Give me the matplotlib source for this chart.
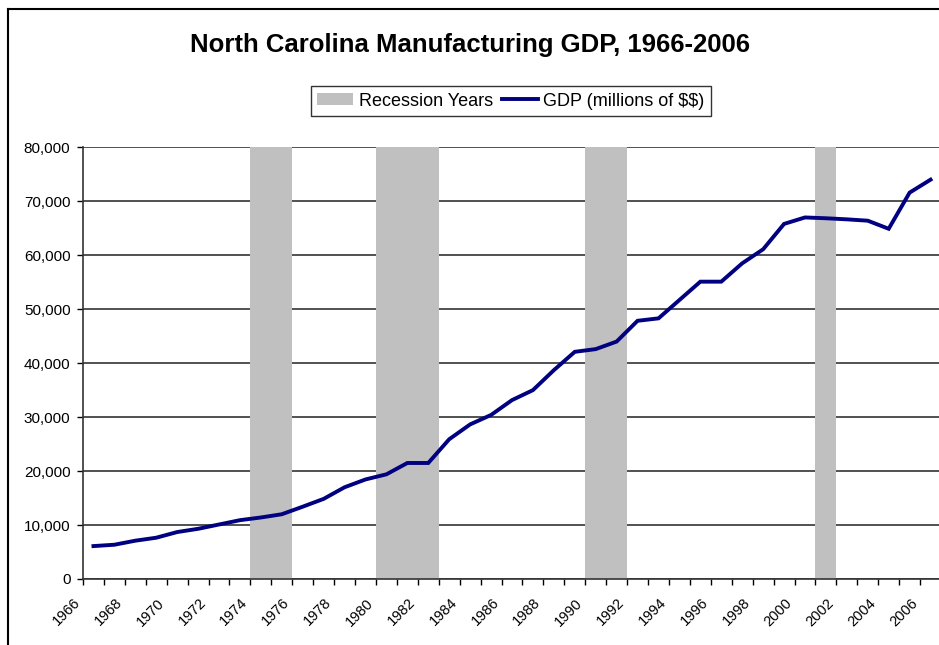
import numpy as np
import matplotlib.pyplot as plt
from matplotlib.ticker import FuncFormatter, MultipleLocator

plt.rcParams['font.family'] = ['Liberation Sans', 'DejaVu Sans']

# NC manufacturing GDP, millions of dollars
years = list(range(1966, 2007))
gdp = [6100, 6350, 7100, 7650, 8700, 9300, 10100, 10900, 11400, 12000,
       13400, 14850, 17000, 18450, 19400, 21500, 21500, 25900, 28650, 30400,
       33150, 35000, 38700, 42100, 42600, 44000, 47850, 48300, 51700, 55100,
       55100, 58500, 61100, 65800, 67000, 66850, 66650, 66400, 64900, 71600,
       74000]

# recession years (shaded columns)
recession_years = [1974, 1975, 1980, 1981, 1982, 1990, 1991, 2001]
recession_top = 80000

W, H = 939, 645
fig = plt.figure(figsize=(W / 100, H / 100), dpi=100)
ax = fig.add_axes([83 / W, (H - 579) / H, (941 - 83) / W, (579 - 147.3) / H])

bars = ax.bar(recession_years, [recession_top] * len(recession_years), width=1, align='edge',
              color='#C0C0C0', zorder=2)
line, = ax.plot(np.array(years) + 0.5, gdp, color='#000080', lw=2.8,
                zorder=3, solid_joinstyle='miter')

ax.set_xlim(1966, 2007)
ax.set_ylim(0, 80000)
ax.yaxis.set_major_locator(MultipleLocator(10000))
ax.yaxis.set_major_formatter(FuncFormatter(lambda v, p: f'{int(v):,}'))
ax.grid(axis='y', color='#222222', lw=1.1, zorder=1)
ax.set_axisbelow(True)

ax.set_xticks(years)
ax.set_xticklabels([str(y) if (y - 1966) % 2 == 0 else '' for y in years],
                   rotation=45, ha='right', fontsize=10.5)
ax.tick_params(axis='x', length=4, width=1, pad=8)
ax.tick_params(axis='y', length=4, width=1, pad=5, labelsize=11)

for s in ['top', 'right']:
    ax.spines[s].set_visible(False)
for s in ['left', 'bottom']:
    ax.spines[s].set_linewidth(1.2)
    ax.spines[s].set_color('#333333')

fig.text(470 / W, 1 - 45 / H, 'North Carolina Manufacturing GDP, 1966-2006',
         ha='center', va='center', fontsize=18.5, fontweight='bold')

leg = fig.legend([bars, line], ['Recession Years', r'GDP (millions of \$\$)'],
                 loc='center', bbox_to_anchor=(511 / W, 1 - 101 / H), ncol=2,
                 fontsize=13, frameon=True, fancybox=False, edgecolor='black',
                 handlelength=2.0, handleheight=0.6, handletextpad=0.3,
                 columnspacing=0.5, borderpad=0.35, borderaxespad=0)
leg.get_frame().set_linewidth(1.0)

# chart border
fig.add_artist(plt.Line2D([8 / W, 8 / W], [0, 1 - 9 / H], color='black', lw=1.5))
fig.add_artist(plt.Line2D([8 / W, 1], [1 - 9 / H, 1 - 9 / H], color='black', lw=1.5))

fig.savefig('out.png', dpi=100)
